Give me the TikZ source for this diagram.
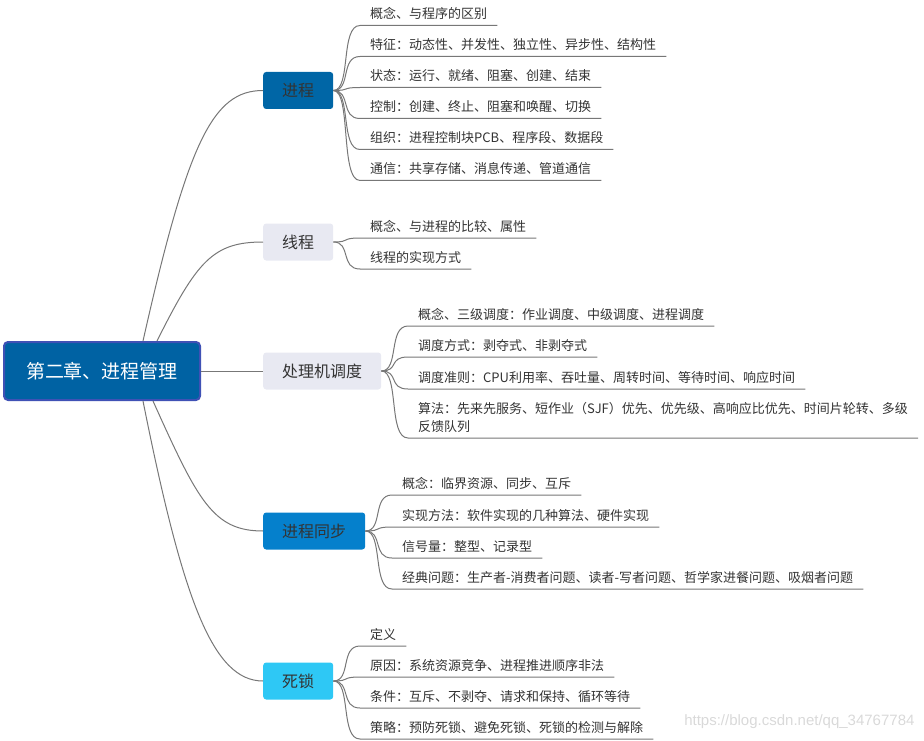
\documentclass[tikz,border=0pt]{standalone}
\usepackage{fontspec}
\setmainfont{Noto Sans CJK SC}
\newfontfamily\wmfont{Liberation Sans}
\usepackage{tikz}
\usetikzlibrary{calc}
\definecolor{rootblue}{HTML}{0062A3}
\definecolor{rootedge}{HTML}{3F51B5}
\definecolor{procblue}{HTML}{0066A6}
\definecolor{syncblue}{HTML}{0580CC}
\definecolor{lockcyan}{HTML}{2EC8F5}
\definecolor{paleblue}{HTML}{E8E9F2}
\definecolor{inkgray}{HTML}{333333}
\definecolor{wiregray}{HTML}{777777}
\tikzset{
  topic/.style  = {draw=rootedge,line width=2pt,fill=rootblue,rounded corners=4pt,text=white,
                   minimum width=196pt,minimum height=58pt,font=\fontsize{19pt}{22pt}\selectfont},
  branch/.style = {rounded corners=3pt,text=inkgray,minimum height=37pt,inner xsep=19pt,
                   font=\fontsize{16pt}{20pt}\selectfont,anchor=west},
  leaf/.style   = {anchor=south west,text=inkgray,inner xsep=10pt,inner ysep=3.5pt,
                   text depth=3pt,align=left,font=\fontsize{13pt}{18pt}\selectfont},
  link/.style   = {draw=wiregray,line width=1pt}
}
\newcommand{\twig}[2]{%
  \draw[link] (#1.east) .. controls +(18,0) and +(-20,0) .. (#2.south west) -- (#2.south east);
}

\begin{document}
\begin{tikzpicture}[x=1pt,y=-1pt]
  \useasboundingbox (0,0) rectangle (924,741);
  % centre topic
  \node[topic] (root) at (102,371) {第二章、进程管理};
  % main branches
  \node[branch,fill=procblue] (proc)   at (263,90.5) {进程};
  \node[branch,fill=paleblue] (thread) at (263,242)  {线程};
  \node[branch,fill=paleblue] (sched)  at (263,371)  {处理机调度};
  \node[branch,fill=syncblue] (sync)   at (263,531)  {进程同步};
  \node[branch,fill=lockcyan] (lock)   at (263,681)  {死锁};
  \coordinate (rootNa) at ($(root.north)+(41,0)$);
  \coordinate (rootNb) at ($(root.north)+(55,0)$);
  \coordinate (rootSa) at ($(root.south)+(41,0)$);
  \coordinate (rootSb) at ($(root.south)+(51,0)$);
  \draw[link] (rootNa) .. controls +(45,-200) and +(-50,0) .. (proc.west);
  \draw[link] (rootNb) .. controls +(40,-80) and +(-50,0) .. (thread.west);
  \draw[link] (root.east) -- (sched.west);
  \draw[link] (rootSb) .. controls +(45,100) and +(-50,0) .. (sync.west);
  \draw[link] (rootSa) .. controls +(40,200) and +(-50,0) .. (lock.west);
  % 进程
  \node[leaf] (proc1) at (360,25.5)  {概念、与程序的区别};
  \node[leaf] (proc2) at (360,56.5)  {特征：动态性、并发性、独立性、异步性、结构性};
  \node[leaf] (proc3) at (360,87.5)  {状态：运行、就绪、阻塞、创建、结束};
  \node[leaf] (proc4) at (360,118.5) {控制：创建、终止、阻塞和唤醒、切换};
  \node[leaf] (proc5) at (360,149.5) {组织：进程控制块PCB、程序段、数据段};
  \node[leaf] (proc6) at (360,180.5) {通信：共享存储、消息传递、管道通信};
  \twig{proc}{proc1}
  \twig{proc}{proc2}
  \twig{proc}{proc3}
  \twig{proc}{proc4}
  \twig{proc}{proc5}
  \twig{proc}{proc6}
  % 线程
  \node[leaf] (thread1) at (360,238) {概念、与进程的比较、属性};
  \node[leaf] (thread2) at (360,269) {线程的实现方式};
  \twig{thread}{thread1}
  \twig{thread}{thread2}
  % 处理机调度
  \node[leaf] (sched1) at (408,326) {概念、三级调度：作业调度、中级调度、进程调度};
  \node[leaf] (sched2) at (408,357) {调度方式：剥夺式、非剥夺式};
  \node[leaf] (sched3) at (408,389) {调度准则：CPU利用率、吞吐量、周转时间、等待时间、响应时间};
  \node[leaf] (sched4) at (408,438) {算法：先来先服务、短作业（SJF）优先、优先级、高响应比优先、时间片轮转、多级\\反馈队列};
  \twig{sched}{sched1}
  \twig{sched}{sched2}
  \twig{sched}{sched3}
  \twig{sched}{sched4}
  % 进程同步
  \node[leaf] (sync1) at (392,495) {概念：临界资源、同步、互斥};
  \node[leaf] (sync2) at (392,527) {实现方法：软件实现的几种算法、硬件实现};
  \node[leaf] (sync3) at (392,558) {信号量：整型、记录型};
  \node[leaf] (sync4) at (392,589) {经典问题：生产者-消费者问题、读者-写者问题、哲学家进餐问题、吸烟者问题};
  \twig{sync}{sync1}
  \twig{sync}{sync2}
  \twig{sync}{sync3}
  \twig{sync}{sync4}
  % 死锁
  \node[leaf] (lock1) at (360,646) {定义};
  \node[leaf] (lock2) at (360,677) {原因：系统资源竞争、进程推进顺序非法};
  \node[leaf] (lock3) at (360,708) {条件：互斥、不剥夺、请求和保持、循环等待};
  \node[leaf] (lock4) at (360,739) {策略：预防死锁、避免死锁、死锁的检测与解除};
  \twig{lock}{lock1}
  \twig{lock}{lock2}
  \twig{lock}{lock3}
  \twig{lock}{lock4}
  % watermark
  \node[font=\wmfont\fontsize{15pt}{18pt}\selectfont,text=black!15,anchor=east] (mark) at (918,722) {https://blog.csdn.net/qq\_34767784};
\end{tikzpicture}
\end{document}
